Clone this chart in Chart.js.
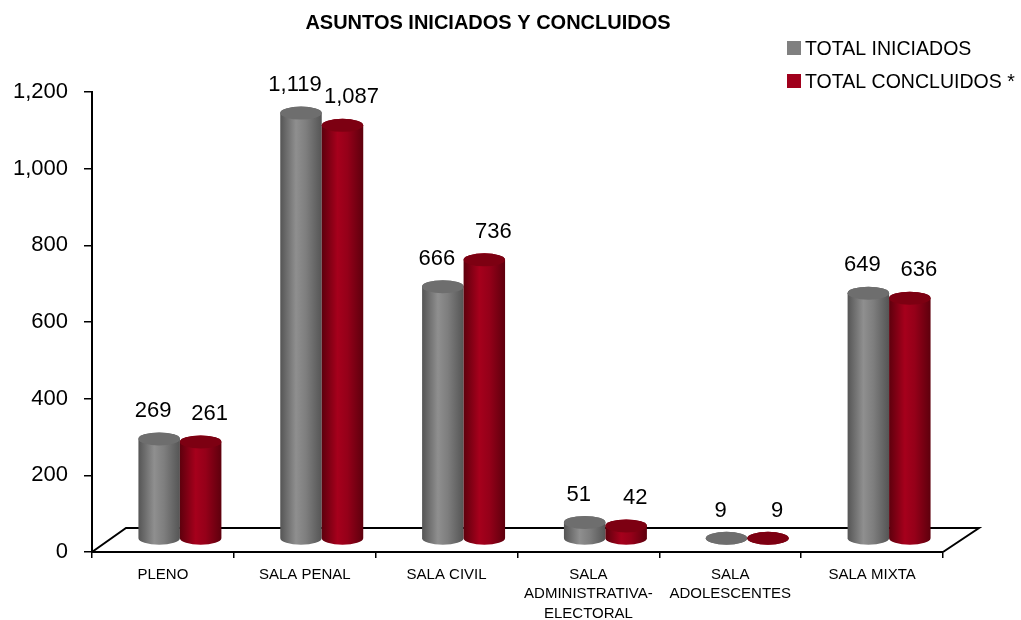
<!DOCTYPE html>
<html><head><meta charset="utf-8">
<script src="https://cdn.jsdelivr.net/npm/chart.js@4/dist/chart.umd.min.js"></script>
<style>html,body{margin:0;padding:0;background:#fff}#wrap{width:1021px;height:620px;position:relative}</style>
</head><body><div id="wrap"><canvas id="c" width="1021" height="620"></canvas></div>
<script>
const categories = [['PLENO'], ['SALA PENAL'], ['SALA CIVIL'], ['SALA', 'ADMINISTRATIVA-', 'ELECTORAL'], ['SALA', 'ADOLESCENTES'], ['SALA MIXTA']];
const iniciados = [269, 1119, 666, 51, 9, 649];
const concluidos = [261, 1087, 736, 42, 9, 636];
const seriesNames = ['TOTAL INICIADOS', 'TOTAL CONCLUIDOS *'];
const yTicks = [0, 200, 400, 600, 800, 1000, 1200];
const chartTitle = 'ASUNTOS INICIADOS Y CONCLUIDOS';

const palettes = [
  {legend: '#808080', dark: '#555555', light: '#8f8f8f', mid: '#7e7e7e', top: '#6e6e6e'},
  {legend: '#a0001c', dark: '#5e000d', light: '#a6001c', mid: '#950019', top: '#7d0012'}
];
const DX = 17, DY_BASE = -13, DY_TOP = -10, RY = 6.5;

function fmt(v){ return v.toLocaleString('en-US'); }

function drawCyl(ctx, cx, top, base, w, pal){
  const rx = w / 2, L = cx - rx, R = cx + rx;
  if (top > base) top = base;
  const g = ctx.createLinearGradient(L, 0, R, 0);
  g.addColorStop(0, pal.dark);
  g.addColorStop(0.38, pal.light);
  g.addColorStop(0.62, pal.mid);
  g.addColorStop(1, pal.dark);
  ctx.beginPath();
  ctx.moveTo(L, top);
  ctx.lineTo(L, base);
  ctx.ellipse(cx, base, rx, RY, 0, Math.PI, 0, true);
  ctx.lineTo(R, top);
  ctx.ellipse(cx, top, rx, RY, 0, 0, Math.PI, true);
  ctx.closePath();
  ctx.fillStyle = g;
  ctx.fill();
  ctx.beginPath();
  ctx.ellipse(cx, top, rx, RY, 0, 0, Math.PI * 2);
  ctx.fillStyle = pal.top;
  ctx.fill();
}

const cylPlugin = {
  id: 'cyl',
  beforeDatasetsDraw(chart){
    const ctx = chart.ctx, xs = chart.scales.x, ys = chart.scales.y;
    const y0 = ys.getPixelForValue(0);
    ctx.save();
    ctx.strokeStyle = '#000';
    ctx.lineWidth = 2;
    ctx.beginPath();
    ctx.moveTo(xs.left, y0); ctx.lineTo(xs.left + 34, y0 - 24);
    ctx.lineTo(xs.right + 36, y0 - 24); ctx.lineTo(xs.right, y0);
    ctx.stroke();
    ctx.restore();
  },
  afterDatasetsDraw(chart){
    const ctx = chart.ctx;
    ctx.save();
    const metas = chart.data.datasets.map((d, i) => chart.getDatasetMeta(i));
    const n = chart.data.labels.length;
    for (let j = 0; j < n; j++){
      metas.forEach((m, i) => {
        const el = m.data[j];
        drawCyl(ctx, el.x + DX, el.y + DY_TOP, el.base + DY_BASE, el.width, palettes[i]);
      });
    }
    ctx.font = '22px "Liberation Sans", Arial, sans-serif';
    ctx.fillStyle = '#000';
    ctx.textAlign = 'center';
    ctx.textBaseline = 'middle';
    metas.forEach((m, i) => {
      m.data.forEach((el, j) => {
        const v = chart.data.datasets[i].data[j];
        const nudge = i === 0 ? -6 : 9;
        ctx.fillText(fmt(v), el.x + DX + nudge, el.y + DY_TOP - 28);
      });
    });
    ctx.restore();
  },
  afterDraw(chart){
    const ctx = chart.ctx;
    ctx.save();
    ctx.fillStyle = '#000';
    ctx.textBaseline = 'middle';
    ctx.textAlign = 'center';
    ctx.font = 'bold 20px "Liberation Sans", Arial, sans-serif';
    ctx.fillText(chartTitle, 488, 23);
    ctx.textAlign = 'left';
    ctx.font = '21px "Liberation Sans", Arial, sans-serif';
    seriesNames.forEach((s, i) => {
      const cy = 48 + i * 33;
      ctx.fillStyle = palettes[i].legend;
      ctx.fillRect(787, cy - 7, 14, 14);
      ctx.fillStyle = '#000';
      ctx.save();
      ctx.translate(805, cy + 1);
      ctx.scale(0.93, 1);
      ctx.fillText(s, 0, 0);
      ctx.restore();
    });
    ctx.restore();
  }
};

new Chart(document.getElementById('c'), {
  type: 'bar',
  data: {
    labels: categories,
    datasets: [
      {label: seriesNames[0], data: iniciados, backgroundColor: 'rgba(0,0,0,0)', borderWidth: 0},
      {label: seriesNames[1], data: concluidos, backgroundColor: 'rgba(0,0,0,0)', borderWidth: 0}
    ]
  },
  options: {
    responsive: false,
    animation: false,
    devicePixelRatio: 1,
    layout: {padding: {top: 92, right: 78, left: 0, bottom: 0}},
    datasets: {bar: {categoryPercentage: 0.585, barPercentage: 1}},
    plugins: {legend: {display: false}, title: {display: false}, tooltip: {enabled: false}},
    scales: {
      x: {
        grid: {drawOnChartArea: false, drawTicks: true, tickLength: 6, color: '#000', lineWidth: 1.5, offset: true},
        border: {display: true, color: '#000', width: 2},
        ticks: {color: '#000', padding: 7, font: {family: '"Liberation Sans", Arial, sans-serif', size: 15, lineHeight: 1.3}, maxRotation: 0, autoSkip: false},
        afterFit(s){ s.height = 68; }
      },
      y: {
        min: 0, max: 1200,
        afterBuildTicks(s){ s.ticks = yTicks.map(v => ({value: v})); },
        grid: {drawOnChartArea: false, drawTicks: true, tickLength: 8, color: '#000', lineWidth: 1.5},
        border: {display: true, color: '#000', width: 2},
        ticks: {color: '#000', padding: 16, font: {family: '"Liberation Sans", Arial, sans-serif', size: 22}, callback: v => fmt(v)},
        afterFit(s){ s.width = 92; }
      }
    }
  },
  plugins: [cylPlugin]
});
</script>
</body></html>
